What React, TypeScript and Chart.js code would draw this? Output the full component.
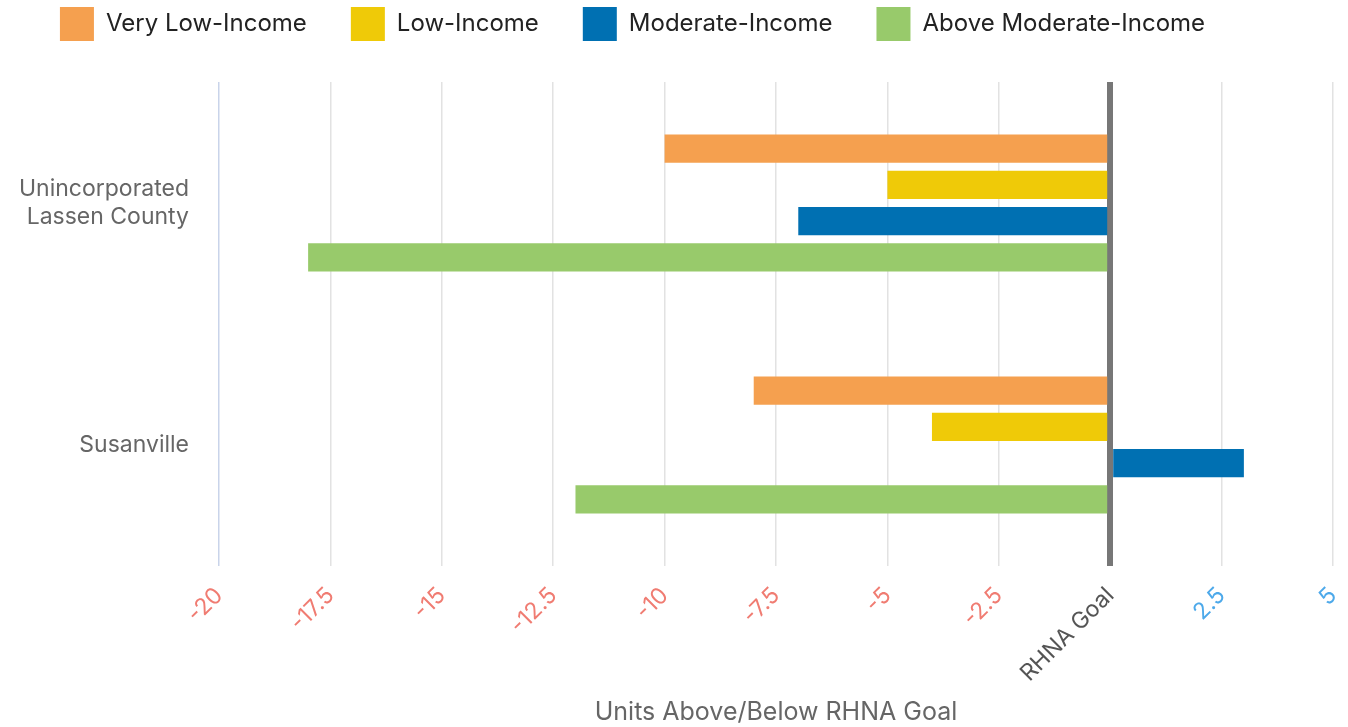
import React, { useEffect, useRef } from 'react';
import { Chart, registerables } from 'chart.js';

Chart.register(...registerables);

const categories = [['Unincorporated', 'Lassen County'], 'Susanville'];
const seriesNames = ['Very Low-Income', 'Low-Income', 'Moderate-Income', 'Above Moderate-Income'];
const veryLowIncome = [-10, -8];
const lowIncome = [-5, -4];
const moderateIncome = [-7, 3];
const aboveModerateIncome = [-18, -12];
const seriesColors = ['#F5A04F', '#EFCA08', '#0070B2', '#98CA6B'];
const xMin = -20;
const xMax = 5;
const xStep = 2.5;
const zeroLabel = 'RHNA Goal';
const axisTitle = 'Units Above/Below RHNA Goal';

const FONT = 'Inter, "Open Sans", sans-serif';
const LEGEND_DX = -34;
const LEGEND_DY = -31;

const legendShift = {
  id: 'legendShift',
  afterLayout(chart: any) {
    const lg = chart.legend;
    if (!lg) return;
    lg.top += LEGEND_DY;
    lg.bottom += LEGEND_DY;
    lg.left += LEGEND_DX;
    lg.right += LEGEND_DX;
  },
};

export default function App() {
  const ref = useRef<HTMLCanvasElement>(null);
  useEffect(() => {
    if (!ref.current) return;
    const data = [veryLowIncome, lowIncome, moderateIncome, aboveModerateIncome];
    const chart = new Chart(ref.current, {
      type: 'bar',
      data: {
        labels: categories as any,
        datasets: seriesNames.map((name, i) => ({
          label: name,
          data: data[i],
          backgroundColor: seriesColors[i],
          borderWidth: 0,
          categoryPercentage: 0.6,
          barPercentage: 0.78,
        })),
      },
      plugins: [legendShift],
      options: {
        indexAxis: 'y',
        responsive: false,
        maintainAspectRatio: false,
        animation: false,
        layout: { padding: { left: 0, right: 15, top: -6, bottom: 0 } },
        plugins: {
          tooltip: { enabled: false },
          legend: {
            position: 'top',
            labels: {
              boxWidth: 34,
              boxHeight: 34,
              padding: 44,
              color: '#222',
              font: { family: FONT, size: 24 },
            },
          },
        },
        scales: {
          x: {
            type: 'linear',
            min: xMin,
            max: xMax,
            ticks: {
              stepSize: xStep,
              minRotation: 45,
              maxRotation: 45,
              padding: 16,
              font: { family: FONT, size: 23 },
              color: (ctx: any) =>
                ctx.tick.value < 0 ? '#F07C72' : ctx.tick.value > 0 ? '#4DA9EA' : '#555555',
              callback: (v: any) => (Number(v) === 0 ? zeroLabel : String(v)),
            },
            grid: {
              drawTicks: false,
              color: (ctx: any) =>
                ctx.tick && ctx.tick.value === 0
                  ? '#777777'
                  : ctx.tick && ctx.tick.value === xMin
                  ? '#C9D4EA'
                  : '#E2E2E2',
              lineWidth: (ctx: any) => (ctx.tick && ctx.tick.value === 0 ? 6 : 1.5),
            },
            border: { display: false },
            title: {
              display: true,
              text: axisTitle,
              color: '#666666',
              font: { family: FONT, size: 25 },
              padding: { top: 0, bottom: 0 },
            },
            afterFit: (scale: any) => {
              scale.height = 161;
              scale.paddingRight = 0;
              scale.paddingLeft = 0;
            },
          },
          y: {
            grid: { display: false, drawTicks: false },
            border: { display: false },
            ticks: {
              padding: 30,
              color: '#666666',
              font: { family: FONT, size: 23, lineHeight: 1.2 },
            },
            afterFit: (scale: any) => {
              scale.width = 219;
            },
          },
        },
      },
    });
    return () => chart.destroy();
  }, []);
  return (
    <div style={{ position: 'fixed', left: 0, top: 0, width: 1348, height: 727, background: '#fff' }}>
      <canvas ref={ref} width={1348} height={727} style={{ display: 'block' }} />
    </div>
  );
}
